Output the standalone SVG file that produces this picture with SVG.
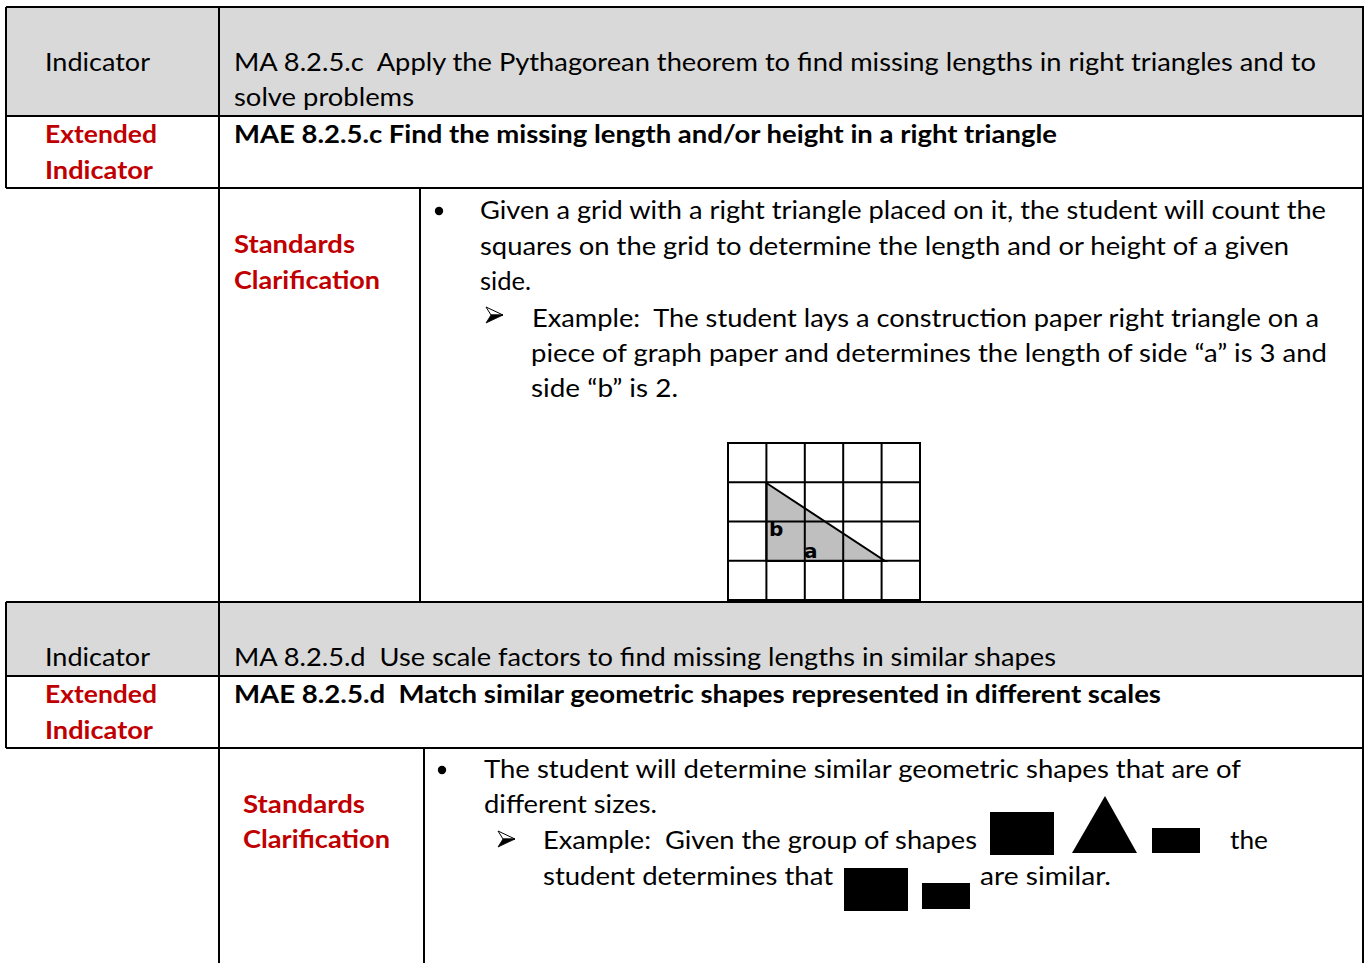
<svg xmlns="http://www.w3.org/2000/svg" width="1366" height="963" viewBox="0 0 1366 963" xml:space="preserve">
<style>
text{font-family:Lato,"Open Sans","Liberation Sans",sans-serif;font-size:25.5px;fill:#000;white-space:pre}
.b{font-weight:bold}
.r{fill:#C00000;font-weight:bold}
.hdr{fill:#D9D9D9}
.ln{stroke:#000;stroke-width:2;fill:none}
.grid{stroke:#000;stroke-width:2;fill:none}
.sh{fill:#000}
.lbl{font-family:"DejaVu Sans",sans-serif;font-weight:bold;font-size:20px}
</style>
<defs>
<g id="arrowBullet">
<path d="M0 0L17 8H5Z" fill="#fff" stroke="#000" stroke-width="1" stroke-linejoin="round"/>
<path d="M5 8H17L0 16Z" fill="#000" stroke="#000" stroke-width="0.8" stroke-linejoin="round"/>
</g>
</defs>
<rect width="1366" height="963" fill="#fff"/>
<g id="backgrounds">
<rect class="hdr" x="6" y="7" width="1357" height="109"/>
<rect class="hdr" x="6" y="602" width="1357" height="74"/>
</g>
<g id="connectors">
<path class="ln" d="M6 7H1363V963M6 7V188M219 7V963M6 116H1363M6 188H1363M420 188V602M6 602H1363M6 602V748M6 676H1363M6 748H1363M424 748V963"/>
</g>
<g id="section1-indicator">
<text x="45" y="71" textLength="105" lengthAdjust="spacingAndGlyphs">Indicator</text>
<text x="234" y="71" textLength="1082" lengthAdjust="spacingAndGlyphs">MA 8.2.5.c  Apply the Pythagorean theorem to find missing lengths in right triangles and to</text>
<text x="234" y="106" textLength="180" lengthAdjust="spacingAndGlyphs">solve problems</text>
</g>
<g id="section1-extended">
<text class="r" x="45" y="143" textLength="112" lengthAdjust="spacingAndGlyphs">Extended</text>
<text class="r" x="45" y="179" textLength="108" lengthAdjust="spacingAndGlyphs">Indicator</text>
<text class="b" x="234" y="143" textLength="823" lengthAdjust="spacingAndGlyphs">MAE 8.2.5.c Find the missing length and/or height in a right triangle</text>
</g>
<g id="section1-clarification">
<text class="r" x="234" y="253" textLength="121" lengthAdjust="spacingAndGlyphs">Standards</text>
<text class="r" x="234" y="289" textLength="146" lengthAdjust="spacingAndGlyphs">Clarification</text>
<circle cx="439" cy="211" r="4.2"/>
<text x="480" y="219" textLength="846" lengthAdjust="spacingAndGlyphs">Given a grid with a right triangle placed on it, the student will count the</text>
<text x="480" y="255" textLength="809" lengthAdjust="spacingAndGlyphs">squares on the grid to determine the length and or height of a given</text>
<text x="480" y="290" textLength="51" lengthAdjust="spacingAndGlyphs">side.</text>
<use href="#arrowBullet" x="486" y="307"/>
<text x="532" y="327" textLength="787" lengthAdjust="spacingAndGlyphs">Example:  The student lays a construction paper right triangle on a</text>
<text x="531" y="362" textLength="796" lengthAdjust="spacingAndGlyphs">piece of graph paper and determines the length of side “a” is 3 and</text>
<text x="531" y="397" textLength="147" lengthAdjust="spacingAndGlyphs">side “b” is 2.</text>
</g>
<g id="grid-figure">
<polygon points="766.4,483 766.4,561 885,561" fill="#BFBFBF" stroke="#000" stroke-width="2"/>
<path class="grid" d="M728 443H920V600H728Z M766.4 443V600M804.8 443V600M843.2 443V600M881.6 443V600M728 482.25H920M728 521.5H920M728 560.75H920"/>
<text class="lbl" x="769" y="536">b</text>
<text class="lbl" x="804" y="558">a</text>
</g>
<g id="section2-indicator">
<text x="45" y="666" textLength="105" lengthAdjust="spacingAndGlyphs">Indicator</text>
<text x="234" y="666" textLength="822" lengthAdjust="spacingAndGlyphs">MA 8.2.5.d  Use scale factors to find missing lengths in similar shapes</text>
</g>
<g id="section2-extended">
<text class="r" x="45" y="703" textLength="112" lengthAdjust="spacingAndGlyphs">Extended</text>
<text class="r" x="45" y="739" textLength="108" lengthAdjust="spacingAndGlyphs">Indicator</text>
<text class="b" x="234" y="703" textLength="927" lengthAdjust="spacingAndGlyphs">MAE 8.2.5.d  Match similar geometric shapes represented in different scales</text>
</g>
<g id="section2-clarification">
<text class="r" x="243" y="813" textLength="122" lengthAdjust="spacingAndGlyphs">Standards</text>
<text class="r" x="243" y="848" textLength="147" lengthAdjust="spacingAndGlyphs">Clarification</text>
<circle cx="442" cy="770" r="4.2"/>
<text x="484" y="778" textLength="757" lengthAdjust="spacingAndGlyphs">The student will determine similar geometric shapes that are of</text>
<text x="484" y="813" textLength="173" lengthAdjust="spacingAndGlyphs">different sizes.</text>
<use href="#arrowBullet" x="498" y="831"/>
<text x="543" y="849" textLength="434" lengthAdjust="spacingAndGlyphs">Example:  Given the group of shapes</text>
<text x="1230" y="849" textLength="38" lengthAdjust="spacingAndGlyphs">the</text>
<text x="543" y="885" textLength="290" lengthAdjust="spacingAndGlyphs">student determines that</text>
<text x="980" y="885" textLength="131" lengthAdjust="spacingAndGlyphs">are similar.</text>
</g>
<g id="shapes">
<rect class="sh" x="990" y="812" width="64" height="43"/>
<polygon class="sh" points="1105,796 1137,853 1072,853"/>
<rect class="sh" x="1152" y="828" width="48" height="25"/>
<rect class="sh" x="844" y="868" width="64" height="43"/>
<rect class="sh" x="922" y="883" width="48" height="26"/>
</g>
</svg>
